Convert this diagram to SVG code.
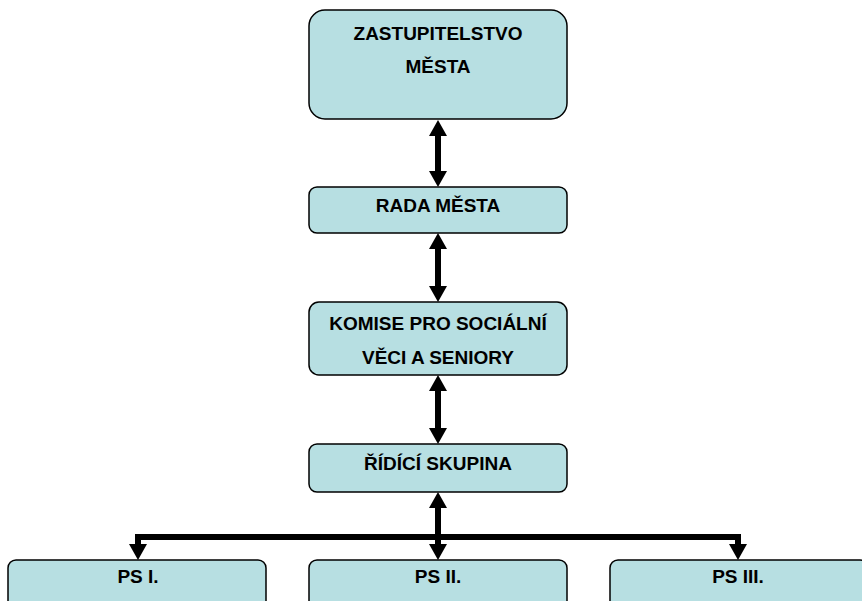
<svg xmlns="http://www.w3.org/2000/svg" width="862" height="601" viewBox="0 0 862 601">
<defs>
<style>
.box{fill:#B7DFE2;stroke:#000;stroke-width:1.5}
.t{font-family:"Liberation Sans",Arial,sans-serif;font-weight:bold;font-size:19px;text-anchor:middle;fill:#000}
.c{fill:none;stroke:#000;stroke-width:6}
</style>
<marker id="ah" markerUnits="userSpaceOnUse" markerWidth="16" markerHeight="18" refX="0" refY="9" orient="auto-start-reverse" viewBox="0 0 16 18">
<path d="M0,0 L16,9 L0,18 z" fill="#000"/>
</marker>
</defs>
<rect width="862" height="601" fill="#fff"/>
<g id="connectors">
<line class="c" x1="438" y1="136" x2="438" y2="171" marker-start="url(#ah)" marker-end="url(#ah)"/>
<line class="c" x1="438" y1="249" x2="438" y2="286" marker-start="url(#ah)" marker-end="url(#ah)"/>
<line class="c" x1="438" y1="391" x2="438" y2="428" marker-start="url(#ah)" marker-end="url(#ah)"/>
<line class="c" x1="438" y1="508" x2="438" y2="544" marker-start="url(#ah)" marker-end="url(#ah)"/>
<path class="c" d="M438,537 H138 V544" stroke-width="5" marker-end="url(#ah)"/>
<path class="c" d="M438,537 H738 V544" stroke-width="5" marker-end="url(#ah)"/>
</g>
<g id="zastupitelstvo">
<rect class="box" x="309" y="10" width="258" height="109" rx="16"/>
<text class="t" x="438" y="40">ZASTUPITELSTVO</text>
<text class="t" x="438" y="73">MĚSTA</text>
</g>
<g id="rada">
<rect class="box" x="309" y="187" width="258" height="46" rx="8"/>
<text class="t" x="438" y="212">RADA MĚSTA</text>
</g>
<g id="komise">
<rect class="box" x="309" y="302" width="258" height="73" rx="10"/>
<text class="t" x="438" y="330">KOMISE PRO SOCIÁLNÍ</text>
<text class="t" x="438" y="364">VĚCI A SENIORY</text>
</g>
<g id="ridici">
<rect class="box" x="309" y="444" width="258" height="48" rx="8"/>
<text class="t" x="438" y="470">ŘÍDÍCÍ SKUPINA</text>
</g>
<g id="ps1">
<rect class="box" x="8" y="560" width="258" height="60" rx="8"/>
<text class="t" x="138" y="583">PS I.</text>
</g>
<g id="ps2">
<rect class="box" x="309" y="560" width="258" height="60" rx="8"/>
<text class="t" x="438" y="583">PS II.</text>
</g>
<g id="ps3">
<rect class="box" x="610" y="560" width="258" height="60" rx="8"/>
<text class="t" x="738" y="583">PS III.</text>
</g>
</svg>
